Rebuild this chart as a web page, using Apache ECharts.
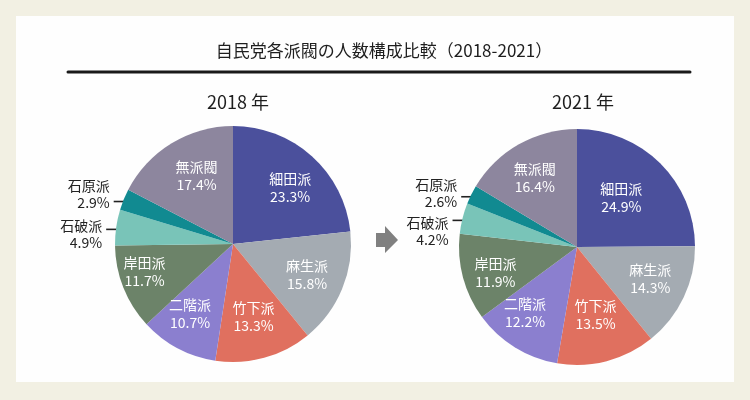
<!DOCTYPE html>
<html>
<head>
<meta charset="utf-8">
<script src="https://cdn.jsdelivr.net/npm/echarts@6/dist/echarts.min.js"></script>
<style>
html,body{margin:0;padding:0;background:#f2f0e3;}
#chart{width:750px;height:400px;}
</style>
</head>
<body>
<div id="chart"></div>
<script>
const factions = ['細田派', '麻生派', '竹下派', '二階派', '岸田派', '石破派', '石原派', '無派閥'];
const values2018 = [23.3, 15.8, 13.3, 10.7, 11.7, 4.9, 2.9, 17.4];
const values2021 = [24.9, 14.3, 13.5, 12.2, 11.9, 4.2, 2.6, 16.4];
const colors = ['#4b509c', '#a4abb2', '#e0705f', '#8b7fcf', '#6c8369', '#79c4b8', '#118a91', '#8d869e'];
const outsideNames = ['石破派', '石原派'];
const titleText = '自民党各派閥の人数構成比較（2018-2021）';
const yearLabels = ['2018 年', '2021 年'];

// label nudges (styling only), [dx, dy] per faction
const nudge2018 = { '細田派': [0, 7], '麻生派': [-5, -2], '竹下派': [-2, -10], '二階派': [-3, -6], '岸田派': [-9, -4], '無派閥': [8, 5], '石破派': [0, 5], '石原派': [0, -7] };
const nudge2021 = { '細田派': [-16, 11], '麻生派': [-4, -5], '竹下派': [-3, -15], '二階派': [-7, -7], '岸田派': [1, 4], '無派閥': [0, 5], '石破派': [0, 11], '石原派': [0, -4] };

const FONT = '"Noto Sans CJK JP", sans-serif';
const chart = echarts.init(document.getElementById('chart'));

function baseData(vals) {
  return factions.map((n, i) => {
    const out = outsideNames.includes(n);
    return {
      name: n, value: vals[i],
      itemStyle: { color: colors[i] },
      label: out ? {
        show: true, position: 'outside', formatter: '{b}\n{c}%', align: 'right',
        color: '#222', fontSize: 14, lineHeight: 17, fontFamily: FONT
      } : { show: false },
      labelLine: out ? {
        show: true, length: 3, length2: 12, smooth: false,
        lineStyle: { color: '#222', width: 1.6 }
      } : { show: false }
    };
  });
}
function labelData(vals) {
  return factions.map((n, i) => ({
    name: n, value: vals[i],
    itemStyle: { color: 'rgba(0,0,0,0)' },
    label: { show: !outsideNames.includes(n) }
  }));
}
function pies(center, vals, nudge) {
  return [{
    type: 'pie', center: center, radius: [0, 118], startAngle: 90, clockwise: true,
    silent: true, animation: false, avoidLabelOverlap: false,
    itemStyle: { borderWidth: 0 },
    labelLayout: function (p) {
      const pts = p.labelLinePoints;
      if (!pts) return {};
      const e = pts[0];
      const d = nudge[factions[p.dataIndex]] || [0, 0];
      const ly = e[1] + 2;
      return {
        x: e[0] - 14, y: ly + d[1], align: 'right', verticalAlign: 'middle',
        labelLinePoints: [[e[0] + 6, ly], [e[0] - 10, ly], [e[0] - 10, ly]]
      };
    },
    data: baseData(vals)
  }, {
    type: 'pie', center: center, radius: [47, 118], startAngle: 90, clockwise: true,
    silent: true, animation: false,
    label: { position: 'inside', formatter: '{b}\n{c}%', color: '#fff', fontSize: 14, lineHeight: 18, fontFamily: FONT },
    labelLine: { show: false },
    itemStyle: { borderWidth: 0 },
    labelLayout: function (p) {
      const d = nudge[factions[p.dataIndex]] || [0, 0];
      return { dx: d[0], dy: d[1] };
    },
    data: labelData(vals)
  }];
}

chart.setOption({
  backgroundColor: '#f2f0e3',
  animation: false,
  title: [
    { text: titleText, left: 379, top: 37, textAlign: 'center',
      textStyle: { fontSize: 17, fontWeight: 'normal', color: '#1e1e1e', fontFamily: FONT } },
    { text: yearLabels[0], left: 233, top: 88, textAlign: 'center',
      textStyle: { fontSize: 18, fontWeight: 'normal', color: '#1e1e1e', fontFamily: FONT } },
    { text: yearLabels[1], left: 578, top: 88, textAlign: 'center',
      textStyle: { fontSize: 18, fontWeight: 'normal', color: '#1e1e1e', fontFamily: FONT } }
  ],
  graphic: [
    { type: 'rect', shape: { x: 16, y: 16, width: 718, height: 366 }, style: { fill: '#fefefe' }, z: -10 },
    { type: 'line', shape: { x1: 68, y1: 72, x2: 690, y2: 72 }, style: { stroke: '#1a1a1a', lineWidth: 3, lineCap: 'round' } },
    { type: 'polygon', shape: { points: [[376, 233], [385, 233], [385, 226], [398, 240], [385, 253], [385, 247], [376, 247]] },
      style: { fill: '#808080' } }
  ],
  series: [].concat(pies([233, 244], values2018, nudge2018), pies([577, 247], values2021, nudge2021))
});
</script>
</body>
</html>
